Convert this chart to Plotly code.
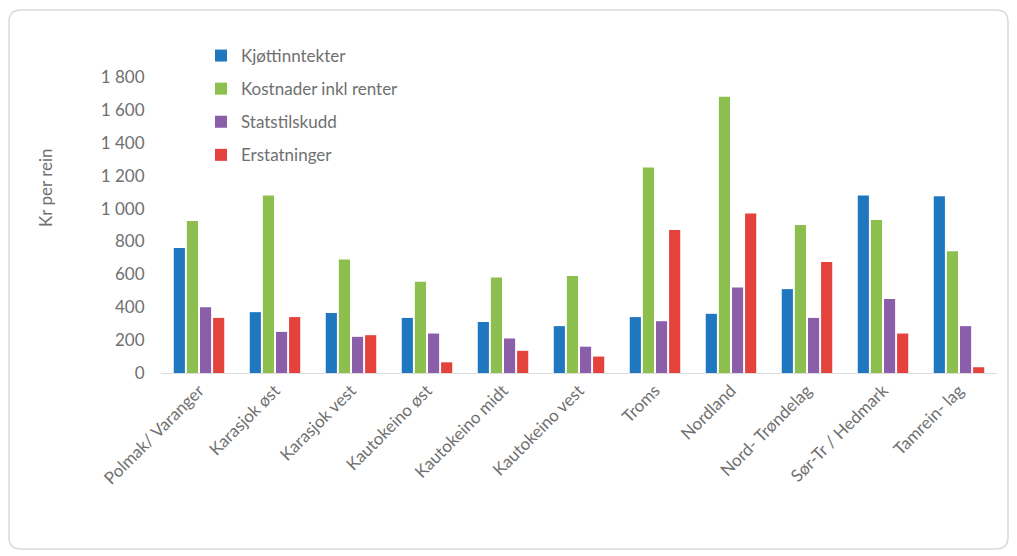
import plotly.graph_objects as go

REGIONS = [
    'Polmak/ Varanger', 'Karasjok øst', 'Karasjok vest', 'Kautokeino øst',
    'Kautokeino midt', 'Kautokeino vest', 'Troms', 'Nordland',
    'Nord- Trøndelag', 'Sør-Tr / Hedmark', 'Tamrein- lag',
]
KJOTT = [760, 370, 365, 335, 310, 285, 340, 360, 510, 1080, 1075]
KOSTNADER = [925, 1080, 690, 555, 580, 590, 1250, 1680, 900, 930, 740]
STATSTILSKUDD = [400, 250, 220, 240, 210, 160, 315, 520, 335, 450, 285]
ERSTATNINGER = [335, 340, 230, 65, 135, 100, 870, 970, 675, 240, 35]

SERIES = [
    ('Kjøttinntekter', KJOTT, '#1f77c0'),
    ('Kostnader inkl renter', KOSTNADER, '#8cbf4e'),
    ('Statstilskudd', STATSTILSKUDD, '#8a5ea8'),
    ('Erstatninger', ERSTATNINGER, '#e4433d'),
]
Y_TICKS = [0, 200, 400, 600, 800, 1000, 1200, 1400, 1600, 1800]
Y_TICKTEXT = ['0', '200', '400', '600', '800', '1 000', '1 200', '1 400', '1 600', '1 800']

W, H = 1017, 556
L, R, T, B = 161, 997, 77, 373   # plot area in pixels
TEXT = '#707070'
FONT = 'Lato, Open Sans, sans-serif'


def px(x):
    return (x - L) / (R - L)


def py(y):
    return (B - y) / (B - T)


fig = go.Figure()
for i, (name, vals, clr) in enumerate(SERIES):
    fig.add_trace(go.Bar(
        x=REGIONS, y=vals, name=name, legendgroup=str(i),
        marker=dict(color=clr, line=dict(width=0)),
    ))

# rounded frame around the chart
x0, x1, y0, y1, r = 9, 1008, 10, 549, 12
path = (f'M {px(x0 + r)},{py(y0)} L {px(x1 - r)},{py(y0)} '
        f'Q {px(x1)},{py(y0)} {px(x1)},{py(y0 + r)} L {px(x1)},{py(y1 - r)} '
        f'Q {px(x1)},{py(y1)} {px(x1 - r)},{py(y1)} L {px(x0 + r)},{py(y1)} '
        f'Q {px(x0)},{py(y1)} {px(x0)},{py(y1 - r)} L {px(x0)},{py(y0 + r)} '
        f'Q {px(x0)},{py(y0)} {px(x0 + r)},{py(y0)} Z')
fig.add_shape(type='path', path=path, xref='paper', yref='paper',
              line=dict(color='#d9d9d9', width=1.5), fillcolor='rgba(0,0,0,0)',
              layer='below')

fig.add_annotation(text='Kr per rein', x=px(45), y=py(188), xref='paper', yref='paper',
                   xanchor='center', yanchor='middle',
                   textangle=-90, showarrow=False,
                   font=dict(size=17, color=TEXT, family=FONT))

fig.update_layout(
    width=W, height=H,
    plot_bgcolor='white', paper_bgcolor='white',
    font=dict(family=FONT, color=TEXT, size=17),
    barmode='group', bargap=0.31, bargroupgap=0.15,
    margin=dict(l=L, r=W - R, t=T, b=H - B, autoexpand=False),
    xaxis=dict(
        showgrid=False, showline=True, linecolor='#dcdcdc', linewidth=1,
        tickangle=-45, tickfont=dict(size=17, color=TEXT), ticks='',
    ),
    yaxis=dict(
        range=[0, 1800], tickvals=Y_TICKS, ticktext=Y_TICKTEXT,
        showgrid=False, zeroline=False, showline=False,
        ticks='outside', ticklen=12, tickcolor='rgba(0,0,0,0)',
        tickfont=dict(size=17, color=TEXT),
    ),
    legend=dict(
        x=px(201), y=py(38), xanchor='left', yanchor='top',
        font=dict(size=17, color=TEXT), tracegroupgap=8,
        bgcolor='rgba(0,0,0,0)', itemwidth=30,
    ),
    showlegend=True,
)

fig.write_html('out.html', config={'displayModeBar': False},
               post_script="document.body.style.margin='0';")
